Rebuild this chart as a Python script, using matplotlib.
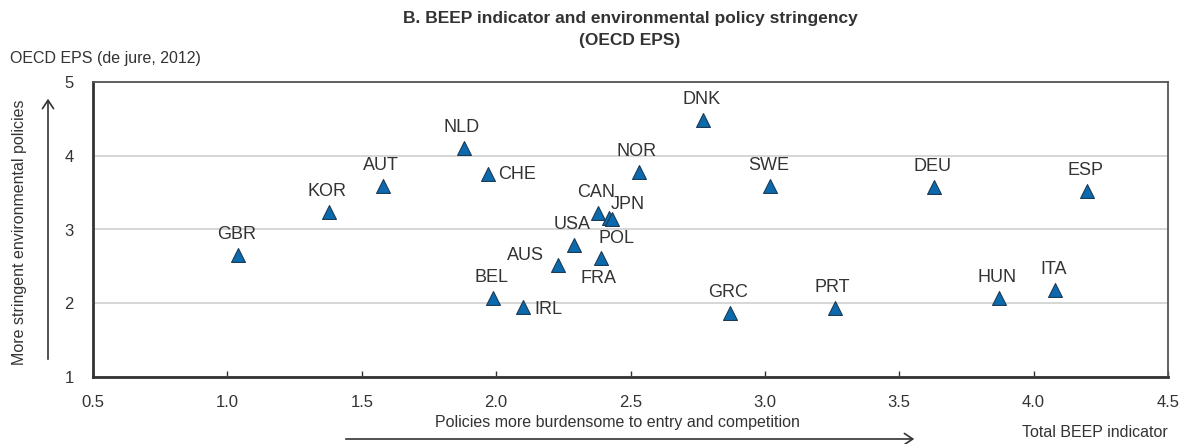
import matplotlib
matplotlib.use("Agg")
import matplotlib.pyplot as plt

# data
countries = ["GBR", "KOR", "AUT", "NLD", "CHE", "BEL", "IRL", "AUS", "USA", "CAN",
             "JPN", "POL", "FRA", "NOR", "DNK", "GRC", "SWE", "PRT", "DEU", "HUN",
             "ITA", "ESP"]
beep = [1.04, 1.38, 1.58, 1.88, 1.97, 1.99, 2.10, 2.23, 2.29, 2.38,
        2.42, 2.43, 2.39, 2.53, 2.77, 2.87, 3.02, 3.26, 3.63, 3.87,
        4.08, 4.20]
eps = [2.65, 3.24, 3.59, 4.10, 3.75, 2.07, 1.95, 2.52, 2.79, 3.23,
       3.15, 3.14, 2.61, 3.78, 4.48, 1.87, 3.59, 1.93, 3.58, 2.07,
       2.18, 3.52]

xticks = [0.5, 1.0, 1.5, 2.0, 2.5, 3.0, 3.5, 4.0, 4.5]
yticks = [1, 2, 3, 4, 5]

# label placement (pixel offset from the marker, alignment)
default_off = (-2, 22, "center")
label_off = {
    "CHE": (10, 1, "left"),
    "IRL": (11, -1, "left"),
    "JPN": (19, 15, "center"),
    "POL": (5, -18, "center"),
    "AUS": (-32, 11, "center"),
    "FRA": (-2, -19, "center"),
}

narrow = ["Liberation Sans Narrow", "Liberation Sans", "DejaVu Sans"]
regular = ["Liberation Sans", "DejaVu Sans"]
dark = "#333333"

fig = plt.figure(figsize=(11.83, 4.44), dpi=100)
ax = fig.add_axes([93 / 1183, 1 - 377 / 444, (1168 - 93) / 1183, (377 - 82) / 444])

ax.scatter(beep, eps, marker="^", s=100, color="#0a6aad", edgecolor="#1d3b55",
           linewidth=0.8, zorder=3)

pt = 72 / 100
for c, x, y in zip(countries, beep, eps):
    dx, dy, ha = label_off.get(c, default_off)
    ax.annotate(c, (x, y), xytext=(dx * pt, (dy - 6) * pt), textcoords="offset points",
                ha=ha, va="baseline", fontsize=13, family=regular, color=dark,
                zorder=4)

ax.set_xlim(0.5, 4.5)
ax.set_ylim(1, 5)
ax.set_xticks(xticks)
ax.set_xticklabels([f"{v:.1f}" for v in xticks], family=narrow, fontsize=12, color=dark)
ax.set_yticks(yticks)
ax.set_yticklabels([str(v) for v in yticks], family=narrow, fontsize=12, color=dark)
ax.tick_params(axis="x", direction="in", length=4, width=1, color=dark, pad=13)
ax.tick_params(axis="y", length=0, pad=14)
ax.grid(axis="y", color="#d0d0d0", linewidth=1.2)
ax.set_axisbelow(True)

for side in ["left", "bottom"]:
    ax.spines[side].set_linewidth(2)
    ax.spines[side].set_color(dark)
for side in ["top", "right"]:
    ax.spines[side].set_linewidth(1.3)
    ax.spines[side].set_color("#555555")

# titles and axis notes
fig.text(630 / 1183, 1 - 18 / 444, "B. BEEP indicator and environmental policy stringency",
         ha="center", va="center", fontsize=12.5, fontweight="bold", family=narrow, color=dark)
fig.text(630 / 1183, 1 - 40 / 444, "(OECD EPS)",
         ha="center", va="center", fontsize=12.5, fontweight="bold", family=narrow, color=dark)
fig.text(10 / 1183, 1 - 58 / 444, "OECD EPS (de jure, 2012)",
         ha="left", va="center", fontsize=11.5, family=narrow, color=dark)
fig.text(20 / 1183, 1 - 232 / 444, "More stringent environmental policies",
         ha="center", va="center", rotation=90, fontsize=11.5, family=narrow, color=dark)
fig.text(617 / 1183, 1 - 422 / 444, "Policies more burdensome to entry and competition",
         ha="center", va="center", fontsize=11.5, family=narrow, color=dark)
fig.text(1168 / 1183, 1 - 432 / 444, "Total BEEP indicator",
         ha="right", va="center", fontsize=11.5, family=narrow, color=dark)

# arrows
fig.add_artist(matplotlib.patches.FancyArrowPatch(
    (48 / 1183, 1 - 362 / 444), (48 / 1183, 1 - 96 / 444), transform=fig.transFigure,
    arrowstyle="->,head_length=6,head_width=4", color=dark, linewidth=1.2))
fig.add_artist(matplotlib.patches.FancyArrowPatch(
    (343 / 1183, 1 - 439 / 444), (917 / 1183, 1 - 439 / 444), transform=fig.transFigure,
    arrowstyle="->,head_length=6,head_width=4", color=dark, linewidth=1.2))

fig.savefig("out.png", dpi=100)
